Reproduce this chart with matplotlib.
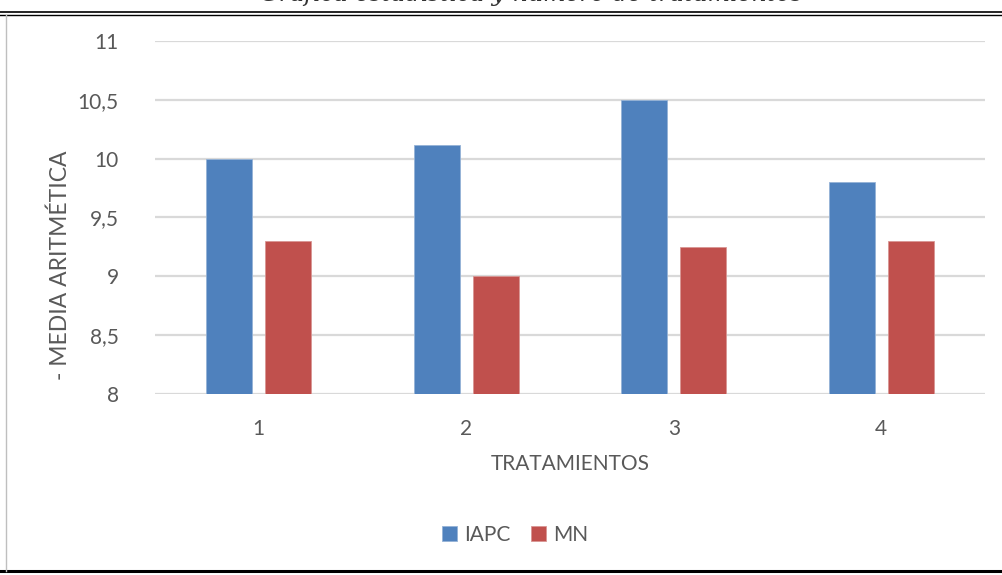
import numpy as np
import matplotlib.pyplot as plt
from matplotlib.lines import Line2D

# datos
tratamientos = ["1", "2", "3", "4"]
iapc = [10.0, 10.12, 10.5, 9.8]
mn = [9.3, 9.0, 9.25, 9.3]
yticks = [8, 8.5, 9, 9.5, 10, 10.5, 11]
ytick_labels = ["8", "8,5", "9", "9,5", "10", "10,5", "11"]

plt.rcParams['font.family'] = ['Lato', 'DejaVu Sans']

fig = plt.figure(figsize=(10.03, 5.75), dpi=100)
ax = fig.add_axes([155 / 1003, 1 - 394 / 575, 830 / 1003, 353 / 575])

x = np.arange(1, len(tratamientos) + 1)
w = 0.222
ax.bar(x - 0.142, [v - 8 for v in iapc], w, bottom=8, color='#4F81BD',
       edgecolor='#95B3D7', linewidth=0.6, label='IAPC', zorder=3)
ax.bar(x + 0.142, [v - 8 for v in mn], w, bottom=8, color='#C0504D',
       edgecolor='#D99694', linewidth=0.6, label='MN', zorder=3)

ax.set_xlim(0.5, 4.5)
ax.set_ylim(8, 11)
ax.set_xticks(x)
ax.set_xticklabels(tratamientos)
ax.set_yticks(yticks)
ax.set_yticklabels(ytick_labels)
ax.grid(axis='y', color='#D9D9D9', linewidth=1.6, zorder=0)
for s in ax.spines.values():
    s.set_visible(False)
ax.tick_params(length=0, labelsize=15, colors='#595959')
ax.tick_params(axis='y', pad=26)
ax.tick_params(axis='x', pad=18)

ax.set_ylabel('- MEDIA ARITMÉTICA', fontsize=16.5, color='#595959', va='center')
ax.yaxis.set_label_coords(-0.114, 0.365)
ax.set_xlabel('TRATAMIENTOS', fontsize=15, color='#595959', labelpad=11)

fig.legend(loc='center', bbox_to_anchor=(515 / 1003, 1 - 535 / 575), ncol=2,
           frameon=False, fontsize=15, labelcolor='#595959',
           handlelength=0.7, handleheight=0.7, handletextpad=0.35,
           columnspacing=1.0)

# título cortado arriba
fig.text(0.53, 1 - 1 / 575, 'Gráfica estadística y número de tratamientos',
         family='DejaVu Serif', style='italic', fontsize=17, color='#333333',
         ha='center', va='baseline')

# marco del documento
fig.add_artist(Line2D([0, 1], [1 - 12 / 575] * 2, color='black', lw=1.2))
fig.add_artist(Line2D([0, 1], [1 - 15 / 575] * 2, color='black', lw=1.0))
fig.add_artist(Line2D([0, 1], [1 - 571 / 575] * 2, color='black', lw=2.2))
fig.add_artist(Line2D([6 / 1003] * 2, [1 - 15 / 575, 1 - 571 / 575],
                      color='#BFBFBF', lw=1.0))

fig.savefig('out.png', dpi=100)
